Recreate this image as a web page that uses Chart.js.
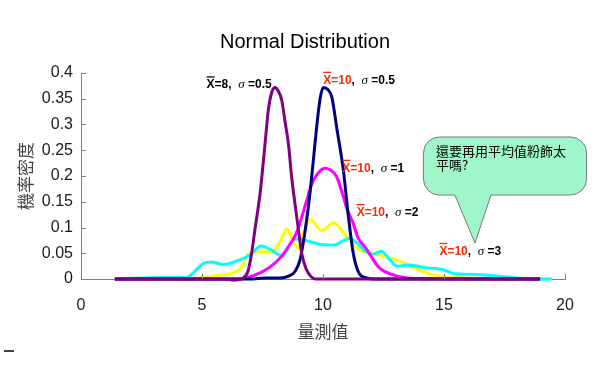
<!DOCTYPE html>
<html><head><meta charset="utf-8">
<script src="https://cdn.jsdelivr.net/npm/chart.js@4"></script>
<style>html,body{margin:0;padding:0;background:#fff;}#wrap{width:600px;height:387px;}</style>
</head><body><div id="wrap"><canvas id="c" width="600" height="387"></canvas></div>
<script>
// ---- data ----
const xTickValues = [0, 5, 10, 15, 20];
const yTickLabels = ['0', '0.05', '0.1', '0.15', '0.2', '0.25', '0.3', '0.35', '0.4'];

const purpleX = [1.4, 6.0, 6.3, 6.7, 6.9, 7.05, 7.2, 7.4, 7.6, 7.74, 7.9, 8.02, 8.15, 8.29, 8.45, 8.57, 8.7, 8.84, 9.0, 9.12, 9.3, 9.5, 9.7, 10.5, 18.97];
const purpleY = [0, 0, -0.002, 0.002, 0.015, 0.05, 0.1, 0.166, 0.26, 0.328, 0.365, 0.372, 0.365, 0.348, 0.3, 0.263, 0.2, 0.147, 0.09, 0.05, 0.02, 0.005, 0, 0, 0];

const navyX = [1.4, 7.0, 7.6, 8.2, 8.6, 8.85, 9.05, 9.25, 9.46, 9.6, 9.74, 9.88, 10.01, 10.2, 10.36, 10.58, 10.84, 11.05, 11.25, 11.45, 11.8, 12.2, 18.97];
const navyY = [0, 0, 0.002, 0.002, 0.006, 0.015, 0.037, 0.09, 0.166, 0.23, 0.296, 0.35, 0.372, 0.368, 0.354, 0.29, 0.212, 0.121, 0.05, 0.015, 0.002, 0, 0];

const magentaX = [1.4, 6.55, 7.1, 7.74, 8.25, 8.6, 8.9, 9.33, 9.5, 9.74, 10.08, 10.3, 10.56, 10.84, 11.0, 11.25, 11.43, 11.8, 12.3, 12.9, 13.8, 18.97];
const magentaY = [0, 0, 0.006, 0.021, 0.042, 0.065, 0.089, 0.153, 0.18, 0.202, 0.215, 0.212, 0.199, 0.16, 0.135, 0.108, 0.082, 0.058, 0.023, 0.008, 0.001, 0];

const yellowX = [1.4, 4.2, 4.9, 5.5, 6.0, 6.3, 6.63, 6.85, 7.29, 7.88, 8.2, 8.5, 8.75, 8.98, 9.2, 9.46, 9.95, 10.43, 10.98, 11.53, 12.03, 13.06, 13.8, 14.54, 15.4, 16.5, 19.45];
const yellowY = [0, 0, 0.002, 0.006, 0.009, 0.012, 0.022, 0.045, 0.053, 0.053, 0.07, 0.097, 0.075, 0.06, 0.09, 0.116, 0.094, 0.109, 0.082, 0.056, 0.05, 0.037, 0.021, 0.008, 0.003, 0.001, 0];

const cyanX = [1.4, 2.5, 3.5, 4.37, 4.7, 5.05, 5.4, 5.87, 6.5, 7.0, 7.44, 7.88, 8.33, 8.7, 8.91, 9.36, 9.81, 10.43, 11.1, 11.4, 11.73, 12.03, 12.4, 12.77, 13.06, 13.5, 14.25, 14.98, 15.43, 16.0, 17.2, 18.24, 19.45];
const cyanY = [0, 0.002, 0.003, 0.003, 0.015, 0.03, 0.033, 0.028, 0.036, 0.047, 0.064, 0.056, 0.044, 0.072, 0.078, 0.074, 0.068, 0.066, 0.079, 0.07, 0.055, 0.048, 0.054, 0.037, 0.025, 0.027, 0.022, 0.018, 0.01, 0.009, 0.006, 0.001, 0];

// curve labels (anchor in data coordinates: left end of text, baseline)
const labelX = [5.19, 10.01, 10.8, 11.39, 14.81];
const labelY = [0.370, 0.379, 0.208, 0.122, 0.0466];
const labelMean = ['8', '10', '10', '10', '10'];
const labelSigma = ['0.5', '0.5', '1', '2', '3'];
const labelMeanColor = ['#000000', '#ff2a00', '#ff2a00', '#ff2a00', '#ff2a00'];

const bubbleLines = ['還要再用平均值粉飾太', '平嗎?'];

function pts(xs, ys) { return xs.map((x, i) => ({x: x, y: ys[i]})); }

function ds(label, xs, ys, color) {
  return {label: label, data: pts(xs, ys), borderColor: color, backgroundColor: color,
    borderWidth: 3, pointRadius: 0, fill: false, cubicInterpolationMode: 'monotone', clip: false};
}

const decorPlugin = {
  id: 'decor',
  afterLayout(chart) {
    // centre the title a little to the right, as in the original figure
    if (chart.titleBlock) { chart.titleBlock.left = 45; }
  },
  afterDraw(chart) {
    const ctx = chart.ctx;
    const xs = chart.scales.x, ys = chart.scales.y;
    const area = chart.chartArea;
    ctx.save();
    // inward tick marks
    ctx.strokeStyle = '#808080';
    ctx.lineWidth = 1;
    xTickValues.forEach(v => {
      const px = Math.round(xs.getPixelForValue(v)) + 0.5;
      ctx.beginPath(); ctx.moveTo(px, area.bottom); ctx.lineTo(px, area.bottom - 5); ctx.stroke();
    });
    yTickLabels.forEach((t, i) => {
      const py = Math.round(ys.getPixelForValue(i * 0.05)) + 0.5;
      ctx.beginPath(); ctx.moveTo(area.left, py); ctx.lineTo(area.left + 5, py); ctx.stroke();
    });

    // curve labels
    ctx.textBaseline = 'alphabetic';
    ctx.textAlign = 'left';
    const boldF = 'bold 12px "Liberation Sans", Arial, sans-serif';
    const sigF = 'italic 13px "Liberation Serif", serif';
    labelX.forEach((lx, i) => {
      let px = xs.getPixelForValue(lx);
      const py = ys.getPixelForValue(labelY[i]);
      const mc = labelMeanColor[i];
      ctx.font = boldF;
      ctx.fillStyle = mc;
      const wX = ctx.measureText('X').width;
      ctx.fillText('X', px, py);
      ctx.strokeStyle = mc; ctx.lineWidth = 1.3;
      ctx.beginPath(); ctx.moveTo(px, py - 11.5); ctx.lineTo(px + wX, py - 11.5); ctx.stroke();
      px += wX;
      const t1 = '=' + labelMean[i];
      ctx.fillText(t1, px, py); px += ctx.measureText(t1).width;
      ctx.fillStyle = '#000';
      ctx.fillText(',  ', px, py); px += ctx.measureText(',  ').width;
      ctx.font = sigF;
      ctx.fillText('σ', px, py); px += ctx.measureText('σ').width;
      ctx.font = boldF;
      ctx.fillText(' =' + labelSigma[i], px, py);
    });

    // speech bubble
    const L = xs.getPixelForValue(14.15), R = xs.getPixelForValue(20.89);
    const T = ys.getPixelForValue(0.2757), B = ys.getPixelForValue(0.163);
    const ta = xs.getPixelForValue(15.45), tb = xs.getPixelForValue(16.94);
    const tipX = xs.getPixelForValue(16.28), tipY = ys.getPixelForValue(0.0699);
    const r = 16;
    ctx.beginPath();
    ctx.moveTo(L + r, T);
    ctx.lineTo(R - r, T); ctx.arcTo(R, T, R, T + r, r);
    ctx.lineTo(R, B - r); ctx.arcTo(R, B, R - r, B, r);
    ctx.lineTo(tb, B); ctx.lineTo(tipX, tipY); ctx.lineTo(ta, B);
    ctx.lineTo(L + r, B); ctx.arcTo(L, B, L, B - r, r);
    ctx.lineTo(L, T + r); ctx.arcTo(L, T, L + r, T, r);
    ctx.closePath();
    ctx.fillStyle = '#9ef6c9';
    ctx.fill();
    ctx.strokeStyle = '#7a7a7a'; ctx.lineWidth = 1;
    ctx.stroke();
    ctx.fillStyle = '#000';
    ctx.font = '13px "Noto Sans CJK TC", sans-serif';
    const bx = xs.getPixelForValue(14.67);
    ctx.fillText(bubbleLines[0], bx, ys.getPixelForValue(0.2379));
    ctx.fillText(bubbleLines[1], bx, ys.getPixelForValue(0.2117));

    // stray dash at bottom left
    ctx.strokeStyle = '#000'; ctx.lineWidth = 1.5;
    ctx.beginPath(); ctx.moveTo(4, 351); ctx.lineTo(14, 351); ctx.stroke();
    ctx.restore();
  }
};

new Chart(document.getElementById('c'), {
  type: 'line',
  data: {
    datasets: [
      ds('X=8, σ=0.5', purpleX, purpleY, '#800080'),
      ds('X=10, σ=0.5', navyX, navyY, '#000080'),
      ds('X=10, σ=1', magentaX, magentaY, '#ff00ff'),
      ds('X=10, σ=3', cyanX, cyanY, '#00ffff'),
      ds('X=10, σ=2', yellowX, yellowY, '#ffff00')
    ]
  },
  options: {
    responsive: false,
    animation: false,
    devicePixelRatio: 1,
    layout: {padding: {left: 0, right: 35, top: 0, bottom: 0}},
    plugins: {
      legend: {display: false},
      tooltip: {enabled: false},
      title: {display: true, text: 'Normal Distribution', color: '#000',
        font: {family: '"Liberation Sans", Arial, sans-serif', size: 20, weight: 'normal'},
        padding: {top: 30, bottom: 19}}
    },
    scales: {
      x: {
        type: 'linear', min: 0, max: 20,
        afterBuildTicks(s) { s.ticks = xTickValues.map(v => ({value: v})); },
        ticks: {color: '#1a1a1a', padding: 17, font: {family: '"Liberation Sans", Arial, sans-serif', size: 16},
          callback: v => String(v)},
        grid: {display: false, drawTicks: false},
        border: {display: true, color: '#808080', width: 1},
        title: {display: true, text: '量測值', color: '#444',
          font: {family: '"Noto Sans CJK TC", sans-serif', size: 17}, padding: {top: 0, bottom: 45}},
        afterFit(s) { s.height = 108; }
      },
      y: {
        type: 'linear', min: 0, max: 0.4,
        afterBuildTicks(s) { s.ticks = yTickLabels.map((t, i) => ({value: i * 0.05})); },
        ticks: {color: '#1a1a1a', padding: 8, font: {family: '"Liberation Sans", Arial, sans-serif', size: 16},
          callback: (v, i) => yTickLabels[i]},
        grid: {display: false, drawTicks: false},
        border: {display: true, color: '#808080', width: 1},
        title: {display: true, text: '機率密度', color: '#444',
          font: {family: '"Noto Sans CJK TC", sans-serif', size: 17}, padding: {top: 15, bottom: 0}},
        afterFit(s) { s.width = 81; }
      }
    }
  },
  plugins: [decorPlugin]
});
</script>
</body></html>
